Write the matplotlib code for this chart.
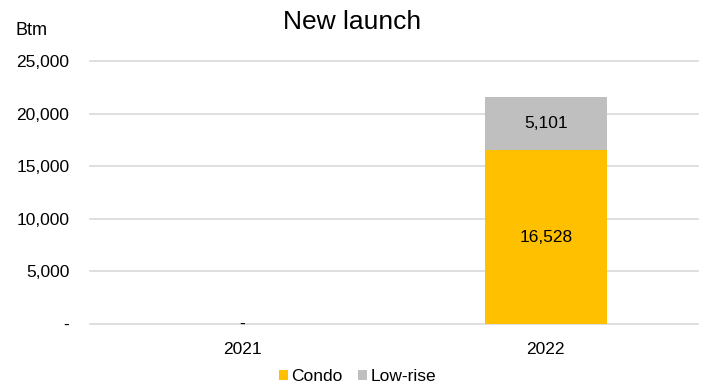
import matplotlib
matplotlib.use("Agg")
from matplotlib import pyplot as plt
from matplotlib.ticker import FuncFormatter

# chart data
years = ['2021', '2022']
condo = [0, 16528]
low_rise = [0, 5101]
y_ticks = [0, 5000, 10000, 15000, 20000, 25000]

plt.rcParams['font.family'] = ['Liberation Sans', 'DejaVu Sans']
fs = 12.5

fig = plt.figure(figsize=(7.04, 3.87), dpi=100)
ax = fig.add_axes([0.128, 0.163, 0.863, 0.679])

x = list(range(len(years)))
bar_w = 0.4
ax.bar(x, condo, width=bar_w, color='#FFC000', label='Condo', zorder=3)
ax.bar(x, low_rise, width=bar_w, bottom=condo, color='#BFBFBF', label='Low-rise', zorder=3)


def fmt(v):
    return '-' if v == 0 else '{:,.0f}'.format(v)


# data labels
for i in x:
    if condo[i] == 0 and low_rise[i] == 0:
        ax.text(i, 0, '-', ha='center', va='center', fontsize=fs, zorder=4)
        continue
    ax.text(i, condo[i] / 2, fmt(condo[i]), ha='center', va='center', fontsize=fs, zorder=4)
    ax.text(i, condo[i] + low_rise[i] / 2, fmt(low_rise[i]), ha='center', va='center',
            fontsize=fs, zorder=4)

ax.set_xlim(-0.5, len(years) - 0.5)
ax.set_ylim(0, 25000)
ax.set_yticks(y_ticks)
ax.yaxis.set_major_formatter(FuncFormatter(lambda v, p: fmt(v)))
ax.set_xticks(x)
ax.set_xticklabels(years)
ax.tick_params(axis='both', length=0, labelsize=fs, colors='#000000')
ax.tick_params(axis='y', pad=15)
ax.tick_params(axis='x', pad=13)
ax.grid(axis='y', color='#D9D9D9', linewidth=1.2, zorder=0)
for gl in ax.get_ygridlines():
    gl.set_clip_on(False)
for s in ax.spines.values():
    s.set_visible(False)

fig.text(0.5, 0.943, 'New launch', ha='center', va='center', fontsize=19)
fig.text(0.022, 0.92, 'Btm', ha='left', va='center', fontsize=13)

ax.legend(loc='center', bbox_to_anchor=(0.44, -0.2), ncol=2, frameon=False,
          fontsize=fs, handlelength=0.5, handleheight=0.5, handletextpad=0.2,
          columnspacing=0.9)

fig.savefig('out.png', dpi=100)
